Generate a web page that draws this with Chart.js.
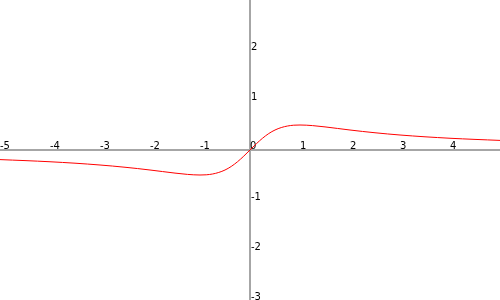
<!DOCTYPE html>
<html>
<head>
<meta charset="utf-8">
<script src="https://cdn.jsdelivr.net/npm/chart.js@4"></script>
<style>
  html, body { margin: 0; padding: 0; background: #fff; }
  canvas { display: block; }
</style>
</head>
<body>
<canvas id="plot" width="500" height="300"></canvas>
<script>
// values
const xs = [-5, -4.75, -4.5, -4.25, -4, -3.75, -3.5, -3.25, -3, -2.75, -2.5, -2.25, -2, -1.75, -1.5, -1.25, -1, -0.875, -0.75, -0.625, -0.5, -0.375, -0.25, -0.125,
            0, 0.125, 0.25, 0.375, 0.5, 0.625, 0.75, 0.875, 1, 1.25, 1.5, 1.75, 2, 2.25, 2.5, 2.75, 3, 3.25, 3.5, 3.75, 4, 4.25, 4.5, 4.75, 5];
const ys = [-0.192, -0.202, -0.212, -0.223, -0.235, -0.249, -0.264, -0.281, -0.3, -0.321, -0.345, -0.371, -0.4, -0.431, -0.462, -0.488, -0.5, -0.496, -0.48, -0.449, -0.4, -0.329, -0.235, -0.123,
            0, 0.123, 0.235, 0.329, 0.4, 0.449, 0.48, 0.496, 0.5, 0.488, 0.462, 0.431, 0.4, 0.371, 0.345, 0.321, 0.3, 0.281, 0.264, 0.249, 0.235, 0.223, 0.212, 0.202, 0.192];
const xTickLabels = [-5, -4, -3, -2, -1, 0, 1, 2, 3, 4];
const yTickLabels = [-3, -2, -1, 1, 2];

const points = xs.map((x, i) => ({ x: x, y: ys[i] }));

// axes through the origin, labels sit to the upper right of each tick
const originAxes = {
    id: 'originAxes',
    beforeDatasetsDraw(chart) {
        const ctx = chart.ctx;
        const sx = chart.scales.x, sy = chart.scales.y;
        const x0 = sx.getPixelForValue(0), y0 = sy.getPixelForValue(0);
        const area = chart.chartArea;
        ctx.save();
        ctx.strokeStyle = '#a6a6a6';
        ctx.lineWidth = 2;
        ctx.beginPath();
        ctx.moveTo(area.left, y0);
        ctx.lineTo(area.right, y0);
        ctx.moveTo(x0, area.top);
        ctx.lineTo(x0, area.bottom);
        ctx.stroke();

        ctx.fillStyle = '#000';
        ctx.font = '10px "DejaVu Sans"';
        ctx.textAlign = 'left';
        ctx.textBaseline = 'alphabetic';
        xTickLabels.forEach(v => {
            ctx.fillText(String(v), sx.getPixelForValue(v), y0 - 1);
        });
        yTickLabels.forEach(v => {
            ctx.fillText(String(v), x0 + 1, sy.getPixelForValue(v));
        });
        ctx.restore();
    }
};

new Chart(document.getElementById('plot'), {
    type: 'scatter',
    data: {
        datasets: [{
            data: points,
            showLine: true,
            borderColor: '#ff0000',
            borderWidth: 1,
            pointRadius: 0,
            cubicInterpolationMode: 'monotone'
        }]
    },
    options: {
        responsive: false,
        animation: false,
        layout: { padding: 0 },
        scales: {
            x: { type: 'linear', min: -5, max: 5, display: false },
            y: { type: 'linear', min: -3, max: 3, display: false }
        },
        plugins: {
            legend: { display: false },
            tooltip: { enabled: false }
        }
    },
    plugins: [originAxes]
});
</script>
</body>
</html>
